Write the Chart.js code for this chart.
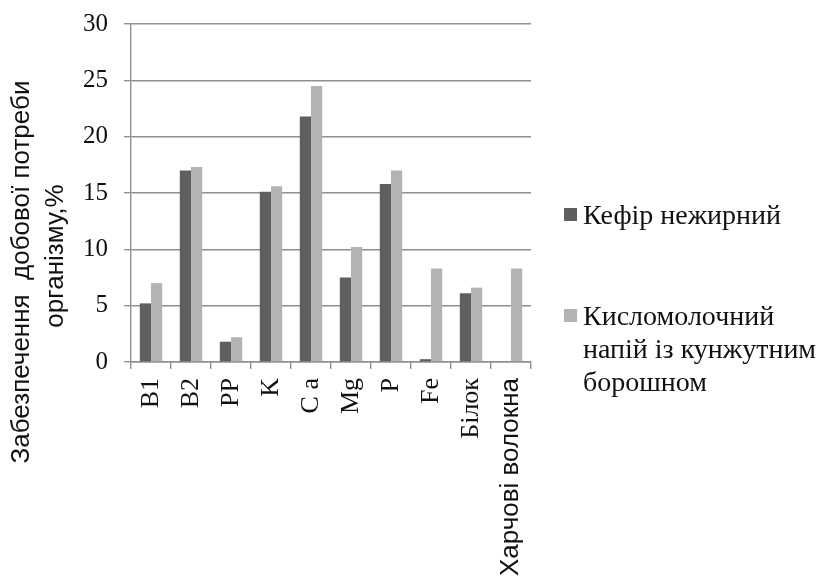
<!DOCTYPE html>
<html>
<head>
<meta charset="utf-8">
<script src="https://cdn.jsdelivr.net/npm/chart.js@4"></script>
<style>
  body { margin: 0; background: #fff; }
  #wrap { position: relative; width: 821px; height: 581px; }
  #legend { position: absolute; left: 564px; top: 0; font-family: "Liberation Serif", serif; font-size: 28px; color: #111; }
  .item { position: absolute; left: 0; white-space: nowrap; line-height: 33px; }
  .box { position: absolute; left: 0; top: 10px; width: 13px; height: 13px; }
  .txt { position: absolute; left: 19px; top: 0; }
</style>
</head>
<body>
<div id="wrap">
  <canvas id="chart" width="821" height="581"></canvas>
  <div id="legend"></div>
</div>
<script>
const categories = ['B1', 'B2', 'PP', 'K', 'C a', 'Mg', 'P', 'Fe', 'Білок', 'Харчові волокна'];
const kefir = [5.2, 17.0, 1.8, 15.1, 21.8, 7.5, 15.8, 0.25, 6.1, 0];
const drink = [7.0, 17.3, 2.2, 15.6, 24.5, 10.2, 17.0, 8.3, 6.6, 8.3];
const seriesNames = [['Кефір нежирний'], ['Кисломолочний', 'напій із кунжутним', 'борошном']];
const yTitle = ['Забезпечення  добової потреби', 'організму,%'];

const darkGrey = '#5f5f5f';
const lightGrey = '#b3b3b3';
const gridGrey = '#8f8f8f';

const tickFont = { family: '"Liberation Serif", serif', size: 25 };
const serif = { family: '"Liberation Serif", serif', size: 26 };
const sans = { family: '"Liberation Sans", sans-serif', size: 26 };

// rotated y title, drawn by hand so the two lines sit where the original puts them
const yTitlePlugin = {
    id: 'yTitle',
    afterDraw(chart) {
        const ctx = chart.ctx;
        const spots = [[22, 272], [56, 256]];
        yTitle.forEach((line, i) => {
            ctx.save();
            ctx.fillStyle = '#111';
            ctx.font = '26px "Liberation Sans", sans-serif';
            ctx.textAlign = 'center';
            ctx.textBaseline = 'middle';
            ctx.translate(spots[i][0], spots[i][1]);
            ctx.rotate(-Math.PI / 2);
            ctx.fillText(line, 0, 0);
            ctx.restore();
        });
    }
};

const chart = new Chart('chart', {
    type: 'bar',
    data: {
        labels: categories,
        datasets: [{
            label: seriesNames[0].join(' '),
            data: kefir,
            backgroundColor: darkGrey
        }, {
            label: seriesNames[1].join(' '),
            data: drink,
            backgroundColor: lightGrey
        }]
    },
    options: {
        responsive: false,
        animation: false,
        categoryPercentage: 0.56,
        barPercentage: 1,
        layout: { padding: { left: 60, right: 290, top: 24, bottom: 0 } },
        plugins: { legend: false, tooltip: false },
        scales: {
            x: {
                grid: { drawOnChartArea: false, color: gridGrey, lineWidth: 1.4, tickLength: 7 },
                border: { color: gridGrey, width: 1.4 },
                ticks: {
                    color: '#111',
                    minRotation: 90,
                    maxRotation: 90,
                    padding: 9,
                    font: (c) => c.index === 9 ? sans : serif
                },
                afterFit(scale) { scale.height = 219; scale.paddingTop = 0; }
            },
            y: {
                min: 0,
                max: 30,
                ticks: { stepSize: 5, color: '#111', padding: 16, font: tickFont },
                grid: { color: gridGrey, lineWidth: 1.4, tickLength: 7 },
                border: { color: gridGrey, width: 1.4 },
                afterFit(scale) { scale.width = 71; scale.paddingTop = 0; }
            }
        }
    },
    plugins: [yTitlePlugin]
});

// legend beside the plot, lines broken as in the original
const legend = document.getElementById('legend');
const legendTops = [198, 299];
chart.data.datasets.forEach((ds, i) => {
    const item = document.createElement('div');
    item.className = 'item';
    item.style.top = legendTops[i] + 'px';
    const box = document.createElement('div');
    box.className = 'box';
    box.style.background = ds.backgroundColor;
    const txt = document.createElement('div');
    txt.className = 'txt';
    txt.innerHTML = seriesNames[i].join('<br>');
    item.appendChild(box);
    item.appendChild(txt);
    legend.appendChild(item);
});
</script>
</body>
</html>
